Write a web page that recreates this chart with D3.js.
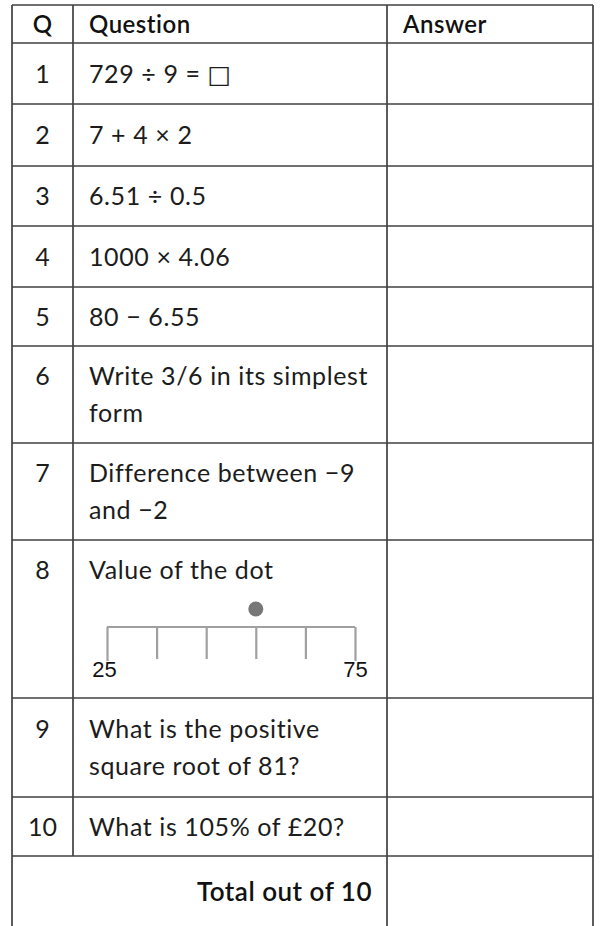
<!DOCTYPE html>
<html>
<head>
<meta charset="utf-8">
<script src="https://cdn.jsdelivr.net/npm/d3@7"></script>
<style>
  html, body { margin: 0; padding: 0; background: #fff; }
  svg { display: block; }
</style>
</head>
<body>
<svg id="chart" width="603" height="926"></svg>
<script>
// ---- data ----
const headers = ["Q", "Question", "Answer"];
const qNumbers = ["1", "2", "3", "4", "5", "6", "7", "8", "9", "10"];
const questions = [
  ["729 ÷ 9 = □"],
  ["7 + 4 × 2"],
  ["6.51 ÷ 0.5"],
  ["1000 × 4.06"],
  ["80 − 6.55"],
  ["Write 3/6 in its simplest", "form"],
  ["Difference between −9", "and −2"],
  ["Value of the dot"],
  ["What is the positive", "square root of 81?"],
  ["What is 105% of £20?"]
];
const totalLabel = "Total out of 10";
const numberLineDomain = [25, 75];
const numberLineTicks = [25, 35, 45, 55, 65, 75];
const numberLineLabels = [25, 75];
const dotValue = [55];

// ---- layout ----
const colX = [12, 73, 387, 593];
const rowHeights = [38, 61, 62, 60, 61, 59, 97, 97, 158, 99, 59, 90];
const top0 = 5;
const bounds = [top0];
rowHeights.forEach(h => bounds.push(bounds[bounds.length - 1] + h));

const FONT = "Lato, 'DejaVu Sans', sans-serif";
const fs = 25, hfs = 24, lineH = 36.5, cap = 18;
const ls = 0.6;
const lineColor = "#404040";

const svg = d3.select("#chart");

// grid lines
const g = svg.append("g").attr("stroke", lineColor).attr("stroke-width", 1.7);
bounds.forEach(y => {
  g.append("line").attr("x1", colX[0]).attr("x2", colX[3]).attr("y1", y).attr("y2", y);
});
[colX[0], colX[2], colX[3]].forEach(xv => {
  g.append("line").attr("x1", xv).attr("x2", xv).attr("y1", bounds[0]).attr("y2", bounds[bounds.length - 1]);
});
g.append("line").attr("x1", colX[1]).attr("x2", colX[1]).attr("y1", bounds[0]).attr("y2", bounds[11]);

// header
const hy = (bounds[0] + bounds[1]) / 2 + cap / 2;
svg.append("g").selectAll("text").data(headers).join("text")
  .attr("x", (d, i) => i === 0 ? (colX[0] + colX[1]) / 2 : colX[i] + 16)
  .attr("y", hy)
  .attr("text-anchor", (d, i) => i === 0 ? "middle" : "start")
  .attr("font-family", FONT).attr("font-weight", 600).attr("font-size", hfs)
  .attr("letter-spacing", (d, i) => i === 0 ? 0 : 0.5)
  .attr("fill", "#111").text(d => d);

// body rows
const rows = svg.append("g").selectAll("g").data(questions).join("g");
rows.each(function (lines, i) {
  const r = d3.select(this);
  const y0 = bounds[i + 1], y1 = bounds[i + 2];
  const cy = (y0 + y1) / 2;
  let first = cy + cap / 2 - (lines.length - 1) * lineH / 2;
  if (i === 7) first = y0 + 39; // "Value of the dot" sits at the top
  r.append("text")
    .attr("x", (colX[0] + colX[1]) / 2).attr("y", first)
    .attr("text-anchor", "middle")
    .attr("font-family", FONT).attr("font-size", fs).attr("fill", "#1c1c1c")
    .text(qNumbers[i]);
  r.selectAll("text.q").data(lines).join("text").attr("class", "q")
    .attr("x", colX[1] + 16).attr("y", (d, k) => first + k * lineH)
    .attr("font-family", FONT).attr("font-size", fs).attr("fill", "#1c1c1c")
    .attr("letter-spacing", ls)
    .each(function (d) {
      // render the answer box glyph with a font that draws it at full size
      const parts = d.split(/(□)/);
      const t = d3.select(this);
      parts.filter(p => p.length).forEach(p => {
        const s = t.append("tspan").text(p);
        if (p === "□") s.attr("font-family", "'DejaVu Sans', sans-serif").attr("font-size", fs);
      });
    });
});

// number line in row 8
const nlTop = bounds[8];
const x = d3.scaleLinear().domain(numberLineDomain).range([107, 355]);
const axisY = nlTop + 87;
const axis = d3.axisBottom(x).tickValues(numberLineTicks).tickSize(32).tickSizeOuter(0)
  .tickFormat(d => numberLineLabels.includes(d) ? String(d) : "");
const ax = svg.append("g").attr("transform", `translate(0,${axisY})`).call(axis);
ax.attr("font-size", null).attr("font-family", null);
ax.select(".domain").attr("stroke", "#a0a0a0").attr("stroke-width", 2.2)
  .attr("d", `M${x(numberLineDomain[0])},0H${x(numberLineDomain[1])}`);
ax.selectAll(".tick line").attr("stroke", "#a0a0a0").attr("stroke-width", 2.2)
  .attr("y2", d => numberLineLabels.includes(d) ? 34 : 32);
ax.selectAll(".tick text")
  .attr("y", 50).attr("dy", 0)
  .attr("font-family", "'Liberation Sans', Arial, sans-serif")
  .attr("font-size", 22).attr("fill", "#111")
  .attr("dx", d => d === numberLineDomain[0] ? -3 : 0);
svg.append("g").selectAll("circle").data(dotValue).join("circle")
  .attr("cx", d => x(d)).attr("cy", axisY - 18).attr("r", 7.5)
  .attr("fill", "#777");

// total row
svg.append("text")
  .attr("x", 372).attr("y", 901)
  .attr("text-anchor", "end")
  .attr("font-family", FONT).attr("font-weight", 600).attr("font-size", 26)
  .attr("letter-spacing", 0.5)
  .attr("fill", "#111").text(totalLabel);
</script>
</body>
</html>
